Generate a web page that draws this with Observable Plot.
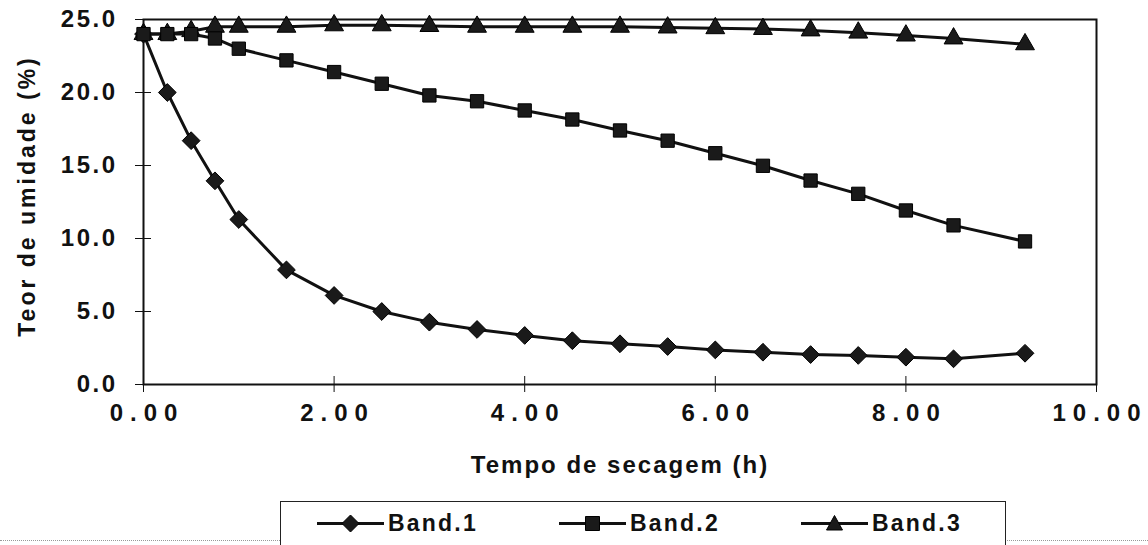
<!DOCTYPE html>
<html><head><meta charset="utf-8">
<script src="https://cdn.jsdelivr.net/npm/d3@7"></script>
<script src="https://cdn.jsdelivr.net/npm/@observablehq/plot@0.6"></script>
<style>
body{margin:0;background:#fff;width:1148px;height:545px;overflow:hidden;position:relative;font-family:"Liberation Sans",Arial,sans-serif;}
#chart{position:absolute;left:0;top:0}
#chart .ytl text{letter-spacing:2.5px}
#chart g[aria-label="x-axis tick label"] text{letter-spacing:7px}
#chart .ytitle text{letter-spacing:3px}
#chart g[aria-label="x-axis label"] text{letter-spacing:2px}
#legend{position:absolute;left:280px;top:501px;width:726px;height:60px;border:1.5px solid #222;box-sizing:border-box;background:#fff}
.item{position:absolute;top:8px;display:flex;align-items:center;font-weight:bold;font-size:23px;letter-spacing:2.2px;color:#111}
.item svg{margin-right:4px}
#scan{position:absolute;left:0;top:540px;width:1148px;border-top:1px dotted #999}
</style></head>
<body><div id="chart"></div><div id="scan"></div><div id="legend"></div>
<script>
const times = [0, 0.25, 0.5, 0.75, 1, 1.5, 2, 2.5, 3, 3.5, 4, 4.5, 5, 5.5, 6, 6.5, 7, 7.5, 8, 8.5, 9.25];
const band1 = [24.0, 20.0, 16.7, 13.95, 11.3, 7.85, 6.1, 5.0, 4.27, 3.77, 3.36, 3.0, 2.79, 2.6, 2.37, 2.21, 2.05, 1.99, 1.87, 1.76, 2.14];
const band2 = [24.0, 24.0, 24.0, 23.7, 23.0, 22.2, 21.4, 20.6, 19.8, 19.4, 18.77, 18.15, 17.4, 16.7, 15.84, 14.98, 13.97, 13.06, 11.92, 10.9, 9.8];
const band3 = [24.0, 24.0, 24.2, 24.5, 24.5, 24.5, 24.6, 24.6, 24.55, 24.5, 24.5, 24.5, 24.5, 24.45, 24.4, 24.35, 24.25, 24.1, 23.9, 23.7, 23.3];
const seriesNames = ["Band.1", "Band.2", "Band.3"];
const seriesSymbols = ["diamond2", "square", "triangle"];
const yTicks = [0, 5, 10, 15, 20, 25];
const xTicks = [0, 2, 4, 6, 8, 10];
const xLabel = "Tempo de secagem (h)";
const yLabel = "Teor de umidade (%)";

const allValues = [band1, band2, band3];
const rows = [];
seriesNames.forEach((s, i) => times.forEach((t, j) => rows.push({series: s, t, v: allValues[i][j]})));
const drawOrder = ["Band.3", "Band.1", "Band.2"];
const ink = "#111";

const marks = [
  Plot.frame({stroke: ink, strokeWidth: 2}),
  Plot.axisY({ticks: yTicks, text: null, tickSize: 16, dx: 8, label: null, stroke: ink}),
  Plot.text(yTicks, {y: d => d, text: d3.format(".1f"), frameAnchor: "left", textAnchor: "end", dx: -26, fontSize: 24, className: "ytl"}),
  Plot.text([yLabel], {text: d => d, frameAnchor: "left", textAnchor: "middle", rotate: -90, dx: -116, dy: -6, fontSize: 23, className: "ytitle"}),
  Plot.axisX({ticks: xTicks, tickFormat: d3.format(".2f"), tickSize: 0, tickPadding: 19, fontSize: 24, dx: 3.5,
    label: xLabel, labelAnchor: "center", labelOffset: 88, labelArrow: "none"}),
  Plot.axisX({ticks: xTicks, text: null, tickSize: 16, dy: -8, label: null, stroke: ink})
];
drawOrder.forEach(name => {
  const i = seriesNames.indexOf(name);
  const data = rows.filter(d => d.series === name);
  marks.push(Plot.line(data, {x: "t", y: "v", stroke: ink, strokeWidth: 3}));
  marks.push(Plot.dot(data, {x: "t", y: "v", symbol: () => seriesSymbols[i], fill: "#1a1a1a", stroke: "#000", strokeWidth: 1, r: i === 0 ? 8 : i === 1 ? 7.5 : 7}));
});

const chart = Plot.plot({
  width: 1148, height: 495,
  marginLeft: 143, marginRight: 52, marginTop: 19, marginBottom: 111,
  x: {domain: [0, 10]},
  y: {domain: [0, 25]},
  symbol: {type: "identity"},
  style: {fontFamily: "'Liberation Sans', Arial, sans-serif", fontSize: "23px", fontWeight: "bold", color: ink, background: "white"},
  marks
});
document.getElementById("chart").appendChild(chart);

// legend
const legend = document.getElementById("legend");
const lefts = [36, 278, 520];
const symPaths = [
  "M33.5,3 L42,11.5 L33.5,20 L25,11.5 Z",
  "M26.5,4.5 L40.5,4.5 L40.5,18.5 L26.5,18.5 Z",
  "M33.5,3.5 L41.5,18 L25.5,18 Z"
];
seriesNames.forEach((name, i) => {
  const div = document.createElement("div");
  div.className = "item";
  div.style.left = lefts[i] + "px";
  div.innerHTML = `<svg width="67" height="23"><line x1="0" y1="11.5" x2="67" y2="11.5" stroke="${ink}" stroke-width="3"/><path d="${symPaths[i]}" fill="#1a1a1a" stroke="#000"/></svg><span>${name}</span>`;
  legend.appendChild(div);
});
</script>
</body></html>
